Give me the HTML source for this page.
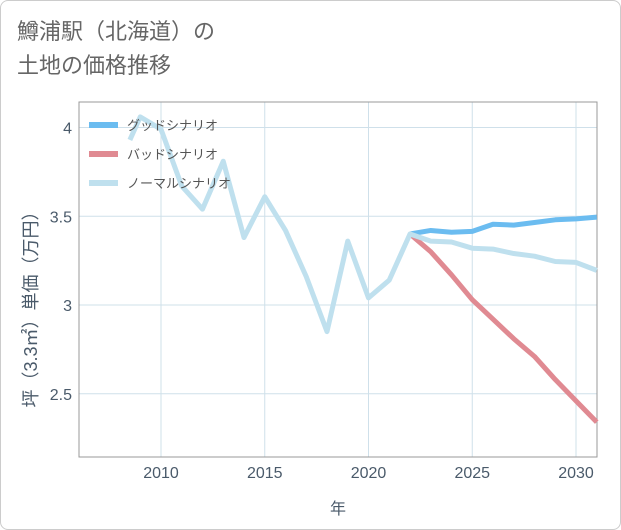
<!DOCTYPE html>
<html><head><meta charset="utf-8"><style>
body{margin:0;background:#fff;}
#wrap{position:relative;width:619px;height:528px;border:1px solid #ccc;border-radius:8px;overflow:hidden;font-family:"Liberation Sans","Noto Sans CJK JP",sans-serif;}
.title{position:absolute;left:16px;top:14px;font-size:22px;line-height:34px;color:#666;}
</style></head><body>
<div id="wrap">
<div class="title">鱒浦駅（北海道）の<br>土地の価格推移</div>
<svg id="c" width="621" height="530" style="position:absolute;left:-1px;top:-1px"></svg>
</div>
<script>
const normalYears=[2008.5,2009,2010,2011,2012,2013,2014,2015,2016,2017,2018,2019,2020,2021,2022,2023,2024,2025,2026,2027,2028,2029,2030,2031];
const normalVals=[3.93,4.06,3.99,3.67,3.54,3.81,3.38,3.61,3.42,3.16,2.85,3.36,3.04,3.14,3.40,3.36,3.355,3.32,3.315,3.29,3.275,3.245,3.24,3.195];
const futureYears=[2022,2023,2024,2025,2026,2027,2028,2029,2030,2031];
const goodVals=[3.40,3.42,3.41,3.415,3.455,3.45,3.465,3.48,3.485,3.495];
const badVals=[3.40,3.30,3.17,3.03,2.92,2.81,2.71,2.58,2.46,2.34];
const xTicks=[2010,2015,2020,2025,2030];
const yTicks=[2.5,3,3.5,4];
const L=79,R=597,T=102,B=457;
const x=v=>161+(v-2010)*20.75;
const y=v=>305-(v-3)*177.5;
const svg=document.getElementById('c');const NS='http://www.w3.org/2000/svg';
function mk(t,a){const e=document.createElementNS(NS,t);for(const k in a)e.setAttribute(k,a[k]);svg.appendChild(e);return e;}
xTicks.forEach(t=>{const g=mk('line',{x1:x(t),x2:x(t),y1:T,y2:B,stroke:'#cfe0ea'});


const l=mk('text',{x:x(t),y:478,'text-anchor':'middle','font-size':16,fill:'#4a5a6a'});l.textContent=t;

});
yTicks.forEach(t=>{const g=mk('line',{x1:L,x2:R,y1:y(t),y2:y(t),stroke:'#cfe0ea'});


const l=mk('text',{x:72,y:y(t)+6,'text-anchor':'end','font-size':16,fill:'#4a5a6a'});l.textContent=t;

});
const fr=mk('rect',{x:L,y:T,width:R-L,height:B-T,fill:'none',stroke:'#999'});


function line(xs,vs,col,name){const p=mk('polyline',{points:xs.map((t,i)=>x(t)+','+y(vs[i])).join(' '),fill:'none',stroke:col,'stroke-width':5,'stroke-linejoin':'round'});

}
line(futureYears,goodVals,'#6bbcf0','good-scenario-line');
line(futureYears,badVals,'#e08a92','bad-scenario-line');
line(normalYears,normalVals,'#bfe0ee','normal-scenario-line');
[['グッドシナリオ','#6bbcf0',125],['バッドシナリオ','#e08a92',154],['ノーマルシナリオ','#bfe0ee',183]].forEach(([n,c,yy])=>{
const s=mk('line',{x1:89,x2:118,y1:yy,y2:yy,stroke:c,'stroke-width':6});


const t=mk('text',{x:127,y:yy+5,'font-size':13,fill:'#555'});t.textContent=n;

});
const xt=mk('text',{x:338,y:514,'text-anchor':'middle','font-size':16,fill:'#4a5a6a'});xt.textContent='年';


const yt=mk('text',{x:0,y:0,'text-anchor':'middle','font-size':18,fill:'#4a5a6a',transform:'translate(37,305) rotate(-90)'});yt.textContent='坪（3.3㎡）単価（万円）';


</script>
</body></html>
